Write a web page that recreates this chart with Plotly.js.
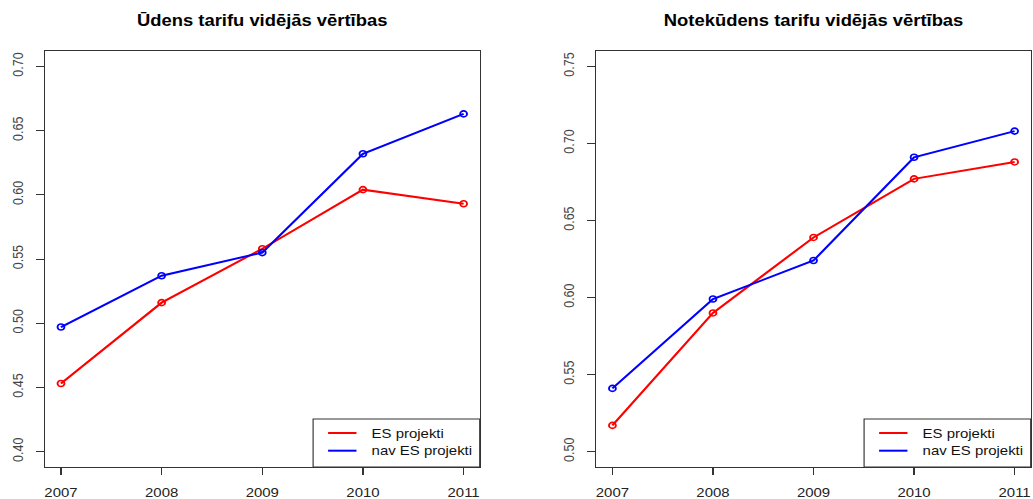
<!DOCTYPE html>
<html>
<head>
<meta charset="utf-8">
<script src="https://cdn.plot.ly/plotly-3.0.1.min.js"></script>
<style>
  html, body { margin: 0; padding: 0; background: #fff; overflow: hidden; }
  #plot { width: 898px; height: 499px; transform: scaleX(1.15033); transform-origin: 0 0; }
</style>
</head>
<body>
<div id="plot"></div>
<script>
// ---- data ----
const years = [2007, 2008, 2009, 2010, 2011];
const waterES    = [0.453, 0.516, 0.558, 0.604, 0.593];
const waterNavES = [0.497, 0.537, 0.555, 0.632, 0.663];
const sewerES    = [0.517, 0.590, 0.639, 0.677, 0.688];
const sewerNavES = [0.541, 0.599, 0.624, 0.691, 0.708];
const seriesNames = ['ES projekti', 'nav ES projekti'];
const titles = ['Ūdens tarifu vidējās vērtības', 'Notekūdens tarifu vidējās vērtības'];
const yTicksLeft  = [0.40, 0.45, 0.50, 0.55, 0.60, 0.65, 0.70];
const yTicksRight = [0.50, 0.55, 0.60, 0.65, 0.70, 0.75];

// ---- style ----
const RED = '#ff0000', BLUE = '#0000ff';
const COLORS = [RED, BLUE];
const FONT = 'Liberation Sans, Arial, Helvetica, sans-serif';

function series(x, y, color, name, xa, ya) {
  return {
    x: x, y: y, xaxis: xa, yaxis: ya, type: 'scatter', mode: 'lines+markers', name: name,
    line: {color: color, width: 2},
    marker: {symbol: 'circle-open', size: 6, color: color, line: {width: 1.6, color: color}},
    showlegend: false, hoverinfo: 'x+y'
  };
}

const traces = [
  series(years, waterES, RED, seriesNames[0], 'x', 'y'),
  series(years, waterNavES, BLUE, seriesNames[1], 'x', 'y'),
  series(years, sewerES, RED, seriesNames[0], 'x2', 'y2'),
  series(years, sewerNavES, BLUE, seriesNames[1], 'x2', 'y2')
];

const dL = [0, 0.4411], dR = [0.5594, 1];

function xAxis(domain, anchor) {
  return {
    domain: domain, anchor: anchor, range: [2006.84, 2011.16],
    tickmode: 'array', tickvals: years, ticktext: years.map(String),
    ticks: 'outside', ticklen: 7, tickwidth: 1, tickcolor: '#333',
    showline: true, mirror: true, linecolor: '#333', linewidth: 1,
    showgrid: false, zeroline: false, ticklabelstandoff: 6,
    tickfont: {family: FONT, size: 13, color: '#222'}
  };
}
function yAxis(range, ticks, anchor) {
  return {
    anchor: anchor, range: range,
    tickmode: 'array', tickvals: ticks, ticktext: ticks.map(v => v.toFixed(2)),
    tickangle: -90,
    ticks: 'outside', ticklen: 7, tickwidth: 1, tickcolor: '#333',
    showline: true, mirror: true, linecolor: '#333', linewidth: 1,
    showgrid: false, zeroline: false, ticklabelstandoff: 6,
    tickfont: {family: FONT, size: 12.5, color: '#444'}
  };
}

// legend drawn as a box with line samples and text, placed in the bottom-right corner of each panel
const shapes = [];
const annotations = [];
function legendAt(rightEdge) {
  const left = rightEdge - 0.169;
  shapes.push({type: 'rect', xref: 'paper', yref: 'paper', x0: left, x1: rightEdge, y0: 0, y1: 0.1154,
               line: {color: '#333', width: 1}, fillcolor: '#fff', layer: 'above'});
  const rowsY = [0.0817, 0.0392];
  seriesNames.forEach((nm, i) => {
    shapes.push({type: 'line', xref: 'paper', yref: 'paper', x0: left + 0.0152, x1: left + 0.044,
                 y0: rowsY[i], y1: rowsY[i], line: {color: COLORS[i], width: 2}, layer: 'above'});
    annotations.push({text: nm, xref: 'paper', yref: 'paper', x: left + 0.0574, y: rowsY[i],
                      xanchor: 'left', yanchor: 'middle', showarrow: false,
                      font: {family: FONT, size: 13, color: '#111'}});
  });
}
legendAt(dL[1]);
legendAt(dR[1]);

annotations.push(
  {text: titles[0], xref: 'paper', yref: 'paper', x: (dL[0] + dL[1]) / 2, y: 1.0745,
   xanchor: 'center', yanchor: 'middle', showarrow: false,
   font: {family: FONT, size: 16, weight: 'bold', color: '#000'}},
  {text: titles[1], xref: 'paper', yref: 'paper', x: (dR[0] + dR[1]) / 2, y: 1.0745,
   xanchor: 'center', yanchor: 'middle', showarrow: false,
   font: {family: FONT, size: 16, weight: 'bold', color: '#000'}}
);

const layout = {
  width: 898, height: 499,
  margin: {l: 39, r: 2, t: 51, b: 32, pad: 0},
  paper_bgcolor: '#fff', plot_bgcolor: '#fff',
  font: {family: FONT},
  xaxis: xAxis(dL, 'y'),
  yaxis: yAxis([0.388, 0.712], yTicksLeft, 'x'),
  xaxis2: xAxis(dR, 'y2'),
  yaxis2: yAxis([0.49, 0.76], yTicksRight, 'x2'),
  shapes: shapes,
  annotations: annotations,
  showlegend: false
};

Plotly.newPlot('plot', traces, layout, {displayModeBar: false, staticPlot: true});
</script>
</body>
</html>
